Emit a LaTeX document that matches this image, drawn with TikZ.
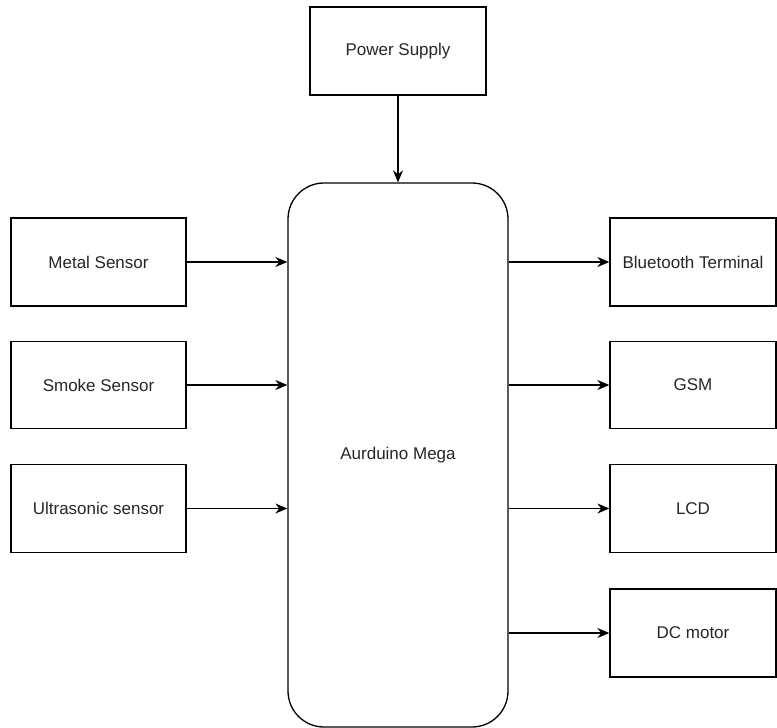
\documentclass[tikz,border=0pt]{standalone}
\usepackage{fontspec}
\setmainfont{Liberation Sans}
\usetikzlibrary{arrows.meta}
\begin{document}
\begin{tikzpicture}[x=1pt,y=-1pt,
  blk/.style={draw=black,line width=1.3pt,rectangle,inner sep=0pt,font=\fontsize{17}{20}\selectfont,text=black!85},
  conn/.style={line width=1.3pt,-{Stealth[length=12pt,width=10pt]}}]
\useasboundingbox (0,0) rectangle (777,728);
\node[blk,minimum width=176pt,minimum height=88pt] (power) at (398,51) {Power Supply};
\node[blk,rounded corners=36pt,minimum width=220pt,minimum height=544pt] (mega) at (398,455) {Aurduino Mega};
\node[blk,minimum width=175pt,minimum height=88pt] (metal) at (98.5,262) {Metal Sensor};
\node[blk,minimum width=175pt,minimum height=87pt] (smoke) at (98.5,385) {Smoke Sensor};
\node[blk,minimum width=175pt,minimum height=88pt] (ultra) at (98.5,508.5) {Ultrasonic sensor};
\node[blk,minimum width=166pt,minimum height=88pt] (bt) at (693,262) {Bluetooth Terminal};
\node[blk,minimum width=166pt,minimum height=87pt] (gsm) at (693,385) {GSM};
\node[blk,minimum width=166pt,minimum height=88pt] (lcd) at (693,508.5) {LCD};
\node[blk,minimum width=166pt,minimum height=88pt] (dc) at (693,633) {DC motor};
\draw[conn] (power.south) -- (power.south |- mega.north);
\draw[conn] (metal.east) -- (metal.east -| mega.west);
\draw[conn] (smoke.east) -- (smoke.east -| mega.west);
\draw[conn] (ultra.east) -- (ultra.east -| mega.west);
\draw[conn] (bt.west -| mega.east) -- (bt.west);
\draw[conn] (gsm.west -| mega.east) -- (gsm.west);
\draw[conn] (lcd.west -| mega.east) -- (lcd.west);
\draw[conn] (dc.west -| mega.east) -- (dc.west);
\end{tikzpicture}
\end{document}
